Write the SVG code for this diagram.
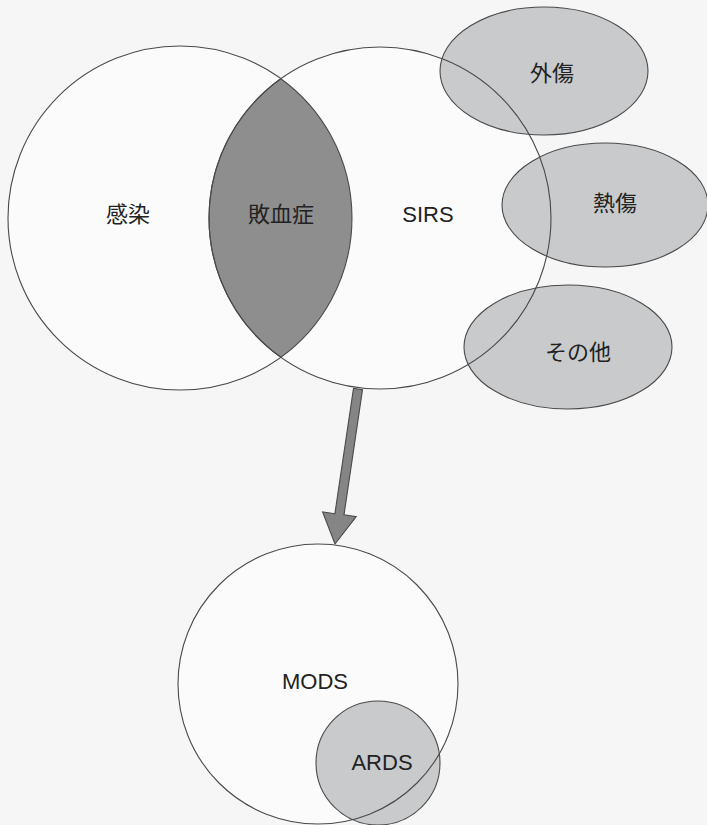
<svg xmlns="http://www.w3.org/2000/svg" width="707" height="825" viewBox="0 0 707 825">
  <style>
    .line { stroke: #4a4a4a; stroke-width: 1.1; }
    .white { fill: #fbfbfb; }
    .light { fill: #c8cacb; }
    .dark { fill: #8e8e8e; }
    .none { fill: none; }
    .ja { font-family: "Noto Sans CJK JP", "Noto Sans", sans-serif; font-size: 22px; fill: #222; text-anchor: middle; dominant-baseline: central; }
    .en { font-family: "Liberation Sans", Arial, sans-serif; font-size: 22px; fill: #222; text-anchor: middle; dominant-baseline: central; }
  </style>
  <rect x="0" y="0" width="707" height="825" fill="#f6f6f6"/>

  <g id="infection">
    <circle cx="180" cy="218" r="172" class="white line"/>
    <text x="128" y="212" class="ja">感染</text>
  </g>

  <g id="sirs">
    <circle cx="380" cy="218" r="171" class="white"/>
  </g>

  <g id="sepsis">
    <path d="M280.86 78.7 A172 172 0 0 1 280.86 357.3 A171 171 0 0 1 280.86 78.7 Z" class="dark line"/>
    <text x="281" y="212" class="ja">敗血症</text>
  </g>

  <g id="trauma">
    <ellipse cx="544" cy="71" rx="104" ry="64" class="light line"/>
    <text x="552" y="71" class="ja">外傷</text>
  </g>

  <g id="burn">
    <ellipse cx="605" cy="205" rx="103" ry="62" class="light line"/>
    <text x="615" y="201" class="ja">熱傷</text>
  </g>

  <g id="other">
    <ellipse cx="568" cy="347" rx="104" ry="62" class="light line"/>
    <text x="578" y="350" class="ja">その他</text>
  </g>

  <g id="sirs-outline">
    <circle cx="380" cy="218" r="171" class="none line"/>
    <text x="428" y="214" class="en">SIRS</text>
  </g>

  <g id="mods">
    <circle cx="318" cy="684" r="140" class="white"/>
    <text x="315" y="681" class="en">MODS</text>
  </g>

  <g id="ards">
    <circle cx="378" cy="763" r="62" class="light line"/>
    <text x="382" y="762" class="en">ARDS</text>
  </g>

  <g id="mods-outline">
    <circle cx="318" cy="684" r="140" class="none line"/>
  </g>

  <g id="connectors">
    <polygon points="362.5,389.7 344,514.9 356.2,516.7 335,544 322.6,511.9 334.9,513.7 353.5,388.3" fill="#858585" stroke="#4a4a4a" stroke-width="1.1" stroke-linejoin="miter"/>
  </g>
</svg>
